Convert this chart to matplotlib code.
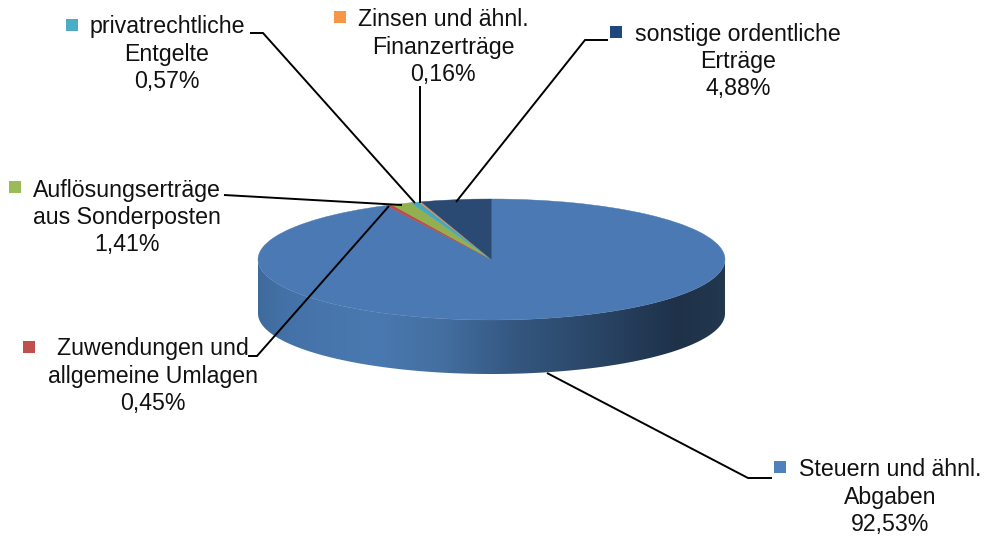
import numpy as np
import matplotlib
matplotlib.use("Agg")
import matplotlib.pyplot as plt
from matplotlib.colors import LinearSegmentedColormap
from matplotlib.patches import PathPatch, Rectangle
from matplotlib.path import Path

# ---- data ----
categories = [
    ["Steuern und ähnl.", "Abgaben"],
    ["Zuwendungen und", "allgemeine Umlagen"],
    ["Auflösungserträge", "aus Sonderposten"],
    ["privatrechtliche", "Entgelte"],
    ["Zinsen und ähnl.", "Finanzerträge"],
    ["sonstige ordentliche", "Erträge"],
]
values = [92.53, 0.45, 1.41, 0.57, 0.16, 4.88]

# ---- style / layout ----
face_colors = ["#4A79B3", "#B94E4B", "#92B050", "#48A6BE", "#E8914A", "#2B4A73"]
key_colors = ["#4F81BD", "#C0504D", "#9BBB59", "#4BACC6", "#F79646", "#1F497D"]
label_centers = [(890, 470), (153, 349), (127, 190), (167, 27), (443, 20), (738, 34)]
key_boxes = [(774, 461), (23, 341), (9, 181), (66, 19), (334, 11), (610, 26)]
leaders = [
    [(547, 373), (748, 478), (772, 478)],
    [(248, 356), (257, 356), (389, 206)],
    [(224, 195), (402, 205)],
    [(250, 33), (263, 33), (415, 203)],
    [(420, 86), (420, 203)],
    [(608, 40), (585, 40), (456, 202)],
]
W, H = 984, 537
CX, CY, RX, RY, DEPTH = 491.5, 259.5, 233.5, 60.5, 54
LINE = 27.2
FONT = 16.7

fig = plt.figure(figsize=(W / 100, H / 100), dpi=100, facecolor="white")

# pie axes: one data unit is the ellipse radius, so the wedges become elliptical
ax = fig.add_axes([0, 0, 1, 1], zorder=1)
wedges, _ = ax.pie(values, colors=face_colors, startangle=90, counterclock=False,
                   radius=1, center=(0, 0), frame=False,
                   wedgeprops=dict(linewidth=0.3, edgecolor="none"))
for w, c in zip(wedges, face_colors):
    w.set_edgecolor(c)
    w.set_zorder(3)

# side wall with a horizontal gradient, clipped to the front rim
d = DEPTH / RY
t = np.linspace(np.pi, 2 * np.pi, 200)
rim = np.column_stack([np.cos(t), np.sin(t)])
low = rim[::-1] - [0, d]
verts = np.vstack([rim, low, rim[:1]])
codes = [Path.MOVETO] + [Path.LINETO] * (len(verts) - 2) + [Path.CLOSEPOLY]
cmap = LinearSegmentedColormap.from_list("wall", [
    (0.00, "#3F6A9C"), (0.06, "#4472A8"), (0.25, "#4A79B1"), (0.40, "#436E9F"),
    (0.55, "#345780"), (0.72, "#2A4666"), (0.90, "#1E3149"), (1.00, "#22384F"),
])
img = ax.imshow(np.linspace(0, 1, 256)[None, :], cmap=cmap, aspect="auto",
                extent=(-1, 1, -1 - d, 0), zorder=1)
clip = PathPatch(Path(verts, codes), transform=ax.transData, facecolor="none", edgecolor="none")
ax.add_patch(clip)
img.set_clip_path(clip)

ax.set_aspect("auto")
ax.set_xlim((0 - CX) / RX, (W - CX) / RX)
ax.set_ylim((CY - H) / RY, CY / RY)
ax.axis("off")

# overlay in pixel coordinates for leaders, keys and labels
ov = fig.add_axes([0, 0, 1, 1], zorder=2)
ov.set_xlim(0, W)
ov.set_ylim(H, 0)
ov.axis("off")

for pts in leaders:
    xs, ys = zip(*pts)
    ov.plot(xs, ys, color="black", lw=1.4, solid_joinstyle="miter", solid_capstyle="butt")

for (kx, ky), c in zip(key_boxes, key_colors):
    ov.add_patch(Rectangle((kx, ky), 12, 12, facecolor=c, edgecolor="none"))

for (lx, ly), lines, v in zip(label_centers, categories, values):
    pct = f"{v:.2f}%".replace(".", ",")
    for i, s in enumerate(list(lines) + [pct]):
        ov.text(lx, ly + i * LINE, s, ha="center", va="center", fontsize=FONT,
                family="Liberation Sans", color="#111111")

fig.savefig("out.png", dpi=100)
